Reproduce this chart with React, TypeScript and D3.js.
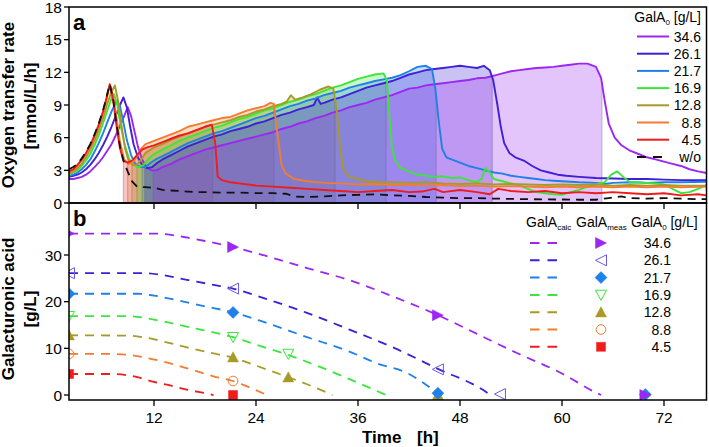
import React from "react";
import * as d3 from "d3";

type P = [number, number];

const LABELS = ["34.6", "26.1", "21.7", "16.9", "12.8", "8.8", "4.5"];
const COLORS = ["#9B27F2", "#3F1FD8", "#2080E8", "#3BE63B", "#A89A26", "#F27C30", "#EE1C1C"];

// Panel a: oxygen transfer rate [mmol/L/h] vs time [h]
const otr346: P[] = [[2,2.2],[2.5,2.2],[3,2.3],[3.5,2.4],[4,2.6],[4.5,2.9],[5,3.3],[5.5,3.7],[6,4.2],[6.5,4.8],[7,5.4],[7.5,6.2],[8,7.1],[8.5,8.0],[8.9,8.8],[9.3,8.0],[9.7,6.6],[10.1,5.2],[10.6,4.0],[11.1,3.3],[11.7,3.0],[12.3,3.0],[13,3.3],[14,3.6],[15,4.0],[16,4.3],[17,4.6],[18,4.9],[19,5.1],[20,5.3],[21,5.5],[22,5.7],[23,5.9],[24,6.1],[25,6.3],[26,6.5],[27,6.8],[28,7.0],[29,7.3],[30,7.5],[31,7.8],[32,8.0],[33,8.3],[34,8.5],[35,8.8],[36,9.0],[37,9.2],[38,9.5],[39,9.7],[40,9.9],[41,10.2],[42,10.5],[43,10.6],[44,10.8],[45,10.9],[46,11.0],[47,11.1],[48,11.2],[49,11.3],[50,11.45],[51,11.5],[52,11.7],[53,11.9],[54,12.1],[55,12.2],[56,12.3],[57,12.4],[58,12.45],[59,12.5],[60,12.6],[61,12.7],[62,12.8],[63,12.8],[64,12.5],[64.6,11.5],[65.0,9.5],[65.5,7.3],[66.2,6.0],[67,5.3],[68,4.8],[69,4.5],[70,4.2],[71,4.0],[72,3.8],[73,3.6],[74,3.4],[75,3.1],[76,2.9],[77,2.75]];
const otr261: P[] = [[2,2.4],[2.5,2.5],[3,2.6],[3.5,2.8],[4,3.1],[4.5,3.5],[5,4.0],[5.5,4.6],[6,5.3],[6.5,6.1],[7,7.0],[7.5,8.0],[8,9.0],[8.4,9.7],[8.8,8.8],[9.2,7.0],[9.6,5.4],[10.1,4.2],[10.6,3.5],[11.2,3.2],[11.8,3.3],[12.4,3.7],[13,4.0],[14,4.4],[15,4.8],[16,5.2],[17,5.5],[18,5.8],[19,6.1],[20,6.3],[21,6.6],[22,6.8],[23,7.0],[24,7.3],[25,7.5],[26,7.8],[27,8.1],[28,8.3],[29,8.6],[30,8.8],[30.8,9.0],[31.2,9.7],[31.6,9.1],[32,9.2],[33,9.5],[34,9.7],[35,10.0],[36,10.3],[37,10.6],[38,10.8],[39,11.0],[40,11.2],[41,11.5],[42,11.8],[43,12.0],[44,12.2],[45,12.3],[46,12.4],[47,12.5],[48,12.6],[49,12.5],[50,12.4],[50.8,12.6],[51.5,12.2],[51.9,11.3],[52.4,9.0],[52.8,7.0],[53.2,5.5],[53.8,4.6],[54.5,4.2],[55.5,3.9],[56.5,3.4],[57.5,3.0],[58.5,2.8],[59.5,2.6],[60.5,2.5],[62,2.4],[64,2.3],[66,2.25],[68,2.2],[70,2.2],[72,2.15],[74,2.1],[77,2.1]];
const otr217: P[] = [[2,2.5],[2.5,2.6],[3,2.8],[3.5,3.1],[4,3.5],[4.5,4.0],[5,4.7],[5.5,5.5],[6,6.4],[6.5,7.4],[7,8.4],[7.6,9.4],[8,8.9],[8.4,7.4],[8.8,5.8],[9.3,4.4],[9.8,3.6],[10.4,3.3],[11,3.3],[11.6,3.7],[12.2,4.0],[13,4.3],[14,4.7],[15,5.1],[16,5.5],[17,5.8],[18,6.1],[19,6.4],[20,6.6],[21,6.9],[22,7.2],[23,7.5],[24,7.8],[25,8.0],[26,8.3],[27,8.6],[28,8.9],[29,9.1],[30,9.4],[31,9.6],[32,9.9],[33,10.1],[34,10.3],[35,10.6],[36,10.8],[37,11.0],[38,11.2],[39,11.35],[40,11.5],[41,11.75],[42,12.1],[43,12.5],[44,12.6],[44.7,12.3],[45.1,10.5],[45.5,7.5],[45.9,5.0],[46.4,4.2],[47,4.0],[48,3.7],[49,3.4],[50,3.2],[51,3.0],[52,2.8],[53,2.7],[54,2.5],[55,2.4],[56,2.3],[57,2.2],[58,2.1],[59,2.05],[60,2.0],[61,1.95],[62,1.9],[64,1.85],[65,1.75],[66,1.85],[68,1.9],[70,1.85],[72,1.9],[74,1.9],[77,1.95]];
const otr169: P[] = [[2,2.6],[2.5,2.8],[3,3.0],[3.5,3.4],[4,3.9],[4.5,4.5],[5,5.3],[5.5,6.2],[6,7.3],[6.5,8.5],[7,9.6],[7.3,10.0],[7.7,8.9],[8.1,7.0],[8.6,5.2],[9.1,4.0],[9.6,3.5],[10.2,3.3],[10.8,3.5],[11.4,4.1],[12,4.5],[13,4.9],[14,5.3],[15,5.7],[16,6.0],[17,6.3],[18,6.6],[19,6.9],[20,7.1],[21,7.4],[22,7.7],[23,7.9],[24,8.2],[25,8.5],[26,8.7],[27,9.0],[28,9.3],[29,9.5],[30,9.8],[31,10.0],[32,10.3],[33,10.6],[34,10.8],[35,11.1],[36,11.4],[37,11.6],[38,11.8],[39,11.9],[39.4,11.3],[39.7,8.0],[40,5.0],[40.4,3.9],[41,3.2],[42,2.9],[43,2.6],[44,2.5],[45,2.4],[46,2.45],[47,2.3],[48,2.35],[49,2.1],[50,1.9],[50.5,2.2],[51,3.2],[51.5,2.8],[52,2.2],[53,2.0],[54,1.8],[55,1.6],[56,1.3],[57,1.0],[58,0.9],[59,0.8],[60,0.75],[61,1.0],[62,1.2],[63,1.5],[64,1.7],[65,1.9],[65.8,2.6],[66.5,2.9],[67.2,2.4],[68,1.9],[69,1.9],[70,1.85],[71,1.8],[72,1.7],[73,1.3],[74,0.9],[75,1.0],[76,1.3],[77,1.65]];
const otr128: P[] = [[2,2.7],[2.5,2.9],[3,3.2],[3.5,3.6],[4,4.2],[4.5,4.9],[5,5.7],[5.5,6.7],[6,7.8],[6.5,9.1],[7,10.2],[7.4,10.8],[7.8,9.3],[8.2,7.0],[8.6,5.0],[9,3.9],[9.5,3.5],[10,3.5],[10.5,4.0],[11,4.6],[12,5.1],[13,5.4],[14,5.8],[15,6.1],[16,6.4],[17,6.7],[18,7.0],[19,7.2],[20,7.4],[21,7.6],[22,7.9],[23,8.1],[24,8.4],[25,8.6],[26,8.9],[27,9.1],[27.6,9.3],[28.1,9.9],[28.6,9.5],[29.5,9.7],[30.5,10.0],[31.5,10.4],[32.5,10.7],[33.1,10.5],[33.5,8.5],[33.9,5.0],[34.3,3.0],[35,2.4],[36,2.2],[37,2.0],[38.5,1.9],[40,1.9],[42,1.85],[44,1.9],[46,1.8],[48,1.75],[50,1.8],[52,1.7],[54,1.75],[56,1.7],[58,1.65],[60,1.7],[62,1.65],[64,1.7],[66,1.6],[68,1.65],[70,1.6],[72,1.65],[74,1.6],[77,1.6]];
const otr88: P[] = [[2,2.8],[2.5,3.0],[3,3.4],[3.5,3.9],[4,4.5],[4.5,5.2],[5,6.1],[5.5,7.1],[6,8.3],[6.4,9.5],[6.8,10.9],[7.2,9.8],[7.6,7.8],[8,5.6],[8.5,4.0],[9,3.6],[9.5,3.7],[10,4.3],[10.5,5.0],[11,5.4],[12,5.7],[13,6.0],[14,6.3],[15,6.6],[16,7.0],[17,7.2],[18,7.4],[19,7.6],[20,7.8],[21,7.9],[22,8.2],[23,8.5],[24,8.7],[25,8.9],[25.7,9.2],[26.1,9.1],[26.5,6.5],[27,3.5],[27.5,2.7],[28.5,2.2],[30,2.0],[32,1.85],[34,1.8],[36,1.7],[38,1.75],[40,1.65],[42,1.7],[44,1.6],[46,1.65],[48,1.55],[50,1.6],[52,1.5],[54,1.55],[56,1.5],[58,1.45],[60,1.5],[62,1.45],[64,1.5],[66,1.45],[68,1.5],[70,1.45],[72,1.5],[74,1.45],[77,1.5]];
const otr45: P[] = [[2,2.9],[2.5,3.1],[3,3.5],[3.5,4.0],[4,4.6],[4.5,5.3],[5,6.2],[5.5,7.2],[6,8.4],[6.4,9.6],[6.8,10.9],[7.2,9.4],[7.6,7.0],[8,5.0],[8.4,3.9],[8.9,3.7],[9.4,3.9],[10,4.4],[10.6,4.9],[11.2,5.1],[12,5.3],[13,5.6],[14,5.9],[15,6.2],[16,6.4],[17,6.7],[18,7.0],[18.8,7.2],[19.2,5.5],[19.5,2.4],[20,2.1],[21,1.9],[22,1.8],[24,1.6],[26,1.5],[28,1.4],[30,1.3],[32,1.2],[34,1.1],[36,1.0],[38,1.1],[40,1.2],[42,1.0],[43.5,1.05],[45,1.3],[46,1.0],[48,1.2],[50,1.0],[51.5,0.8],[52.5,1.3],[54,1.1],[56,1.0],[58,1.1],[60,0.9],[62,1.0],[64,0.9],[66,1.0],[68,0.9],[70,0.8],[72,0.9],[74,0.7],[76,0.8],[77,0.7]];
const otrWo: P[] = [[2,3.1],[2.5,3.3],[3,3.6],[3.5,4.1],[4,4.7],[4.5,5.4],[5,6.3],[5.5,7.3],[6,8.5],[6.4,9.7],[6.8,10.9],[7.2,9.5],[7.6,7.2],[8,5.2],[8.4,3.9],[8.9,2.9],[9.4,2.0],[10,1.5],[11,1.45],[12,1.4],[13,1.2],[14,1.15],[15,1.1],[16,1.05],[17,1.0],[18,1.0],[20,0.95],[22,0.95],[24,0.9],[26,0.9],[27.5,0.85],[28.5,0.6],[30,0.55],[32,0.6],[34,0.7],[36,0.75],[38,0.8],[40,0.7],[42,0.65],[44,0.55],[46,0.5],[48,0.45],[50,0.45],[52,0.4],[54,0.38],[56,0.35],[58,0.33],[60,0.32],[62,0.3],[64,0.3],[65.5,0.45],[67,0.6],[68,0.45],[70,0.4],[72,0.45],[74,0.4],[76,0.35],[77,0.35]];

const OTR = [otr346, otr261, otr217, otr169, otr128, otr88, otr45];
// shaded GalA consumption phase per series [start, end] in h
const FILL_START = [11.9, 10.9, 10.6, 10.0, 9.4, 8.9, 8.4];
const FILL_END = [64.7, 51.8, 45.2, 39.3, 33.3, 26.1, 18.9];

// Panel b: calculated GalA [g/L]
const calc346: P[] = [[2,34.6],[12,34.6],[14,34.3],[16,33.7],[18,33.0],[21.3,31.7],[25,29.9],[30,27.2],[35,24.6],[40,21.2],[45.4,17.1],[50,13.1],[54.7,9.0],[60,4.6],[63.9,0.6],[64.6,0]];
const calc261: P[] = [[2,26.1],[11,26.1],[13,25.7],[15,25.0],[17,24.3],[19,23.6],[21.3,22.8],[25,20.7],[30,17.6],[35,14.0],[40,10.3],[45.4,5.6],[50.7,1.1],[51.6,0]];
const calc217: P[] = [[2,21.7],[10,21.7],[12,21.3],[14,20.6],[16,19.8],[18,19.0],[21.3,17.7],[25,15.6],[30,12.4],[35,9.3],[38.2,6.8],[41.8,4.7],[44.3,1.8],[45.6,0]];
const calc169: P[] = [[2,16.9],[9,16.9],[11,16.5],[13,15.8],[15,15.0],[17,14.2],[19,13.4],[21.3,12.4],[24,10.8],[27.8,8.6],[31,6.4],[35,3.4],[39.3,0]];
const calc128: P[] = [[2,12.8],[9,12.7],[11,12.3],[13,11.5],[15,10.6],[17,9.7],[19,8.9],[21.3,8.0],[24,6.3],[27.8,3.8],[30,2.3],[33,0]];
const calc88: P[] = [[2,8.8],[7,8.8],[9,8.6],[11,8.0],[13,7.2],[15,6.2],[17,5.1],[19,4.0],[21.3,3.0],[23,1.8],[25.3,0]];
const calc45: P[] = [[2,4.5],[7,4.5],[9,4.2],[10.5,3.6],[12,2.8],[14,2.0],[16,1.1],[18,0.4],[19,0]];
const CALC = [calc346, calc261, calc217, calc169, calc128, calc88, calc45];

// Panel b: measured GalA [g/L]
const meas346: P[] = [[2,34.6],[21.3,31.7],[45.4,17.1],[69.8,0]];
const meas261: P[] = [[2,26.1],[21.3,22.8],[45.4,5.5],[52.7,0.2]];
const meas217: P[] = [[2,21.7],[21.3,17.7],[45.4,0.4],[69.8,0.1]];
const meas169: P[] = [[2,16.9],[21.3,12.4],[27.8,8.8]];
const meas128: P[] = [[2,12.8],[21.3,8.1],[27.8,3.8],[45.4,0]];
const meas88: P[] = [[2,8.8],[21.3,3.0]];
const meas45: P[] = [[2,4.5],[21.3,0]];
const MEAS = [meas346, meas261, meas217, meas169, meas128, meas88, meas45];
const MARKERS = ["triRight", "triLeft", "diamond", "triDown", "triUp", "circle", "square"];
const MARKER_FILLED = [true, false, true, false, true, false, true];
const MARKER_STROKE = ["#9B27F2", "#6A58E8", "#1E80EA", "#3BE63B", "#A89A26", "#F27C30", "#EE1C1C"];

const X_TICKS = [12, 24, 36, 48, 60, 72];
const YA_TICKS = [0, 3, 6, 9, 12, 15, 18];
const YB_TICKS = [0, 10, 20, 30];

const FONT = "'Liberation Sans', Arial, sans-serif";

const L = 69, R = 706.5;
const A_TOP = 7, A_BOT = 203, B_BOT = 400;

function interp(data: P[], t: number): number {
  for (let i = 1; i < data.length; i++) {
    if (data[i][0] >= t) {
      const [t0, v0] = data[i - 1];
      const [t1, v1] = data[i];
      return v0 + ((v1 - v0) * (t - t0)) / (t1 - t0);
    }
  }
  return data[data.length - 1][1];
}

function markerPath(kind: string, cx: number, cy: number): string {
  const s = 5.5;
  switch (kind) {
    case "triRight": return `M${cx - s},${cy - s}L${cx + s},${cy}L${cx - s},${cy + s}Z`;
    case "triLeft": return `M${cx + s},${cy - s}L${cx - s},${cy}L${cx + s},${cy + s}Z`;
    case "triUp": return `M${cx - s},${cy + s * 0.85}L${cx},${cy - s}L${cx + s},${cy + s * 0.85}Z`;
    case "triDown": return `M${cx - s},${cy - s * 0.85}L${cx},${cy + s}L${cx + s},${cy - s * 0.85}Z`;
    case "diamond": return `M${cx},${cy - s - 0.5}L${cx + s + 0.5},${cy}L${cx},${cy + s + 0.5}L${cx - s - 0.5},${cy}Z`;
    case "square": return `M${cx - 4.5},${cy - 4.5}h9v9h-9Z`;
    default: return "";
  }
}

function Marker({ kind, cx, cy, i }: { kind: string; cx: number; cy: number; i: number }) {
  const filled = MARKER_FILLED[i];
  const c = MARKER_STROKE[i];
  if (kind === "circle") {
    return <circle cx={cx} cy={cy} r={4.8} fill="none" stroke={c} strokeWidth={1} />;
  }
  return <path d={markerPath(kind, cx, cy)} fill={filled ? c : "none"} stroke={c} strokeWidth={filled ? 0.5 : 1} />;
}

export default function App() {
  const x = d3.scaleLinear().domain([2, 77]).range([L, R]);
  const yA = d3.scaleLinear().domain([0, 18]).range([A_BOT, A_TOP]);
  const yB = d3.scaleLinear().domain([0, 30]).range([395, 255]);

  const lineA = d3.line<P>().x((d) => x(d[0])).y((d) => yA(d[1]));
  const lineB = d3.line<P>().x((d) => x(d[0])).y((d) => yB(d[1])).curve(d3.curveMonotoneX);
  const areaA = d3.area<P>().x((d) => x(d[0])).y0(yA(0)).y1((d) => yA(d[1]));

  const fills = OTR.map((data, i) => {
    const s = FILL_START[i], e = FILL_END[i];
    const pts: P[] = [[s, interp(data, s)], ...data.filter((d) => d[0] > s && d[0] < e), [e, interp(data, e)]];
    return pts;
  });

  const drawOrder = [6, 5, 4, 3, 2, 1, 0];

  return (
    <svg width={709} height={447} style={{ position: "absolute", left: 0, top: 0, background: "white" }} fontFamily={FONT}>
      <defs>
        <clipPath id="clipA"><rect x={L} y={A_TOP} width={R - L} height={A_BOT - A_TOP} /></clipPath>
        <clipPath id="clipB"><rect x={L} y={A_BOT} width={R - L} height={B_BOT - A_BOT} /></clipPath>
      </defs>

      {/* Panel a fills */}
      <g clipPath="url(#clipA)">
        {drawOrder.map((i) => (
          <path key={"f" + i} d={areaA(fills[i]) || ""} fill={COLORS[i]} fillOpacity={0.27} stroke="none" />
        ))}
        {drawOrder.map((i) => (
          <g key={"v" + i}>
            <line x1={x(FILL_START[i])} x2={x(FILL_START[i])} y1={yA(0)} y2={yA(interp(OTR[i], FILL_START[i]))} stroke="#6a6090" strokeOpacity={0.35} strokeWidth={1.2} />
            <line x1={x(FILL_END[i])} x2={x(FILL_END[i])} y1={yA(0)} y2={yA(interp(OTR[i], FILL_END[i]))} stroke="#6a6090" strokeOpacity={0.35} strokeWidth={1.2} />
          </g>
        ))}
        {[0, 1, 2, 3, 4, 5, 6].map((i) => (
          <path key={"l" + i} d={lineA(OTR[i]) || ""} fill="none" stroke={COLORS[i]} strokeWidth={1.9} strokeLinejoin="round" />
        ))}
        <path d={lineA(otrWo) || ""} fill="none" stroke="#111" strokeWidth={1.8} strokeDasharray="8,6" />
      </g>

      {/* Panel b */}
      <g clipPath="url(#clipB)">
        {[0, 1, 2, 3, 4, 5, 6].map((i) => (
          <path key={"c" + i} d={lineB(CALC[i]) || ""} fill="none" stroke={COLORS[i]} strokeWidth={1.8} strokeDasharray="9,7" />
        ))}
        {drawOrder.map((i) =>
          MEAS[i].map((d, j) => (
            <Marker key={"m" + i + "_" + j} kind={MARKERS[i]} cx={x(d[0])} cy={yB(d[1])} i={i} />
          ))
        )}
      </g>

      {/* Frames */}
      <rect x={L} y={A_TOP} width={R - L} height={A_BOT - A_TOP} fill="none" stroke="#000" strokeWidth={1.5} />
      <rect x={L} y={A_BOT} width={R - L} height={B_BOT - A_BOT} fill="none" stroke="#000" strokeWidth={1.5} />

      {/* Panel a y axis */}
      {YA_TICKS.map((t) => (
        <g key={"ya" + t}>
          <line x1={L - 5} x2={L} y1={yA(t)} y2={yA(t)} stroke="#000" strokeWidth={1.3} />
          <text x={L - 7} y={yA(t) + 5.5} textAnchor="end" fontSize={15.5}>{t}</text>
        </g>
      ))}
      {X_TICKS.map((t) => (
        <line key={"xa" + t} x1={x(t)} x2={x(t)} y1={A_BOT} y2={A_BOT + 6} stroke="#000" strokeWidth={1.3} />
      ))}

      {/* Panel b axes */}
      {YB_TICKS.map((t) => (
        <g key={"yb" + t}>
          <line x1={L - 5} x2={L} y1={yB(t)} y2={yB(t)} stroke="#000" strokeWidth={1.3} />
          <text x={L - 7} y={yB(t) + 5.5} textAnchor="end" fontSize={15.5}>{t}</text>
        </g>
      ))}
      {X_TICKS.map((t) => (
        <g key={"xb" + t}>
          <line x1={x(t)} x2={x(t)} y1={B_BOT} y2={B_BOT + 6} stroke="#000" strokeWidth={1.3} />
          <text x={x(t)} y={423} textAnchor="middle" fontSize={15.5}>{t}</text>
        </g>
      ))}

      {/* Axis titles */}
      <text transform="translate(14,105) rotate(-90)" textAnchor="middle" fontSize={17} fontWeight="bold">Oxygen transfer rate</text>
      <text transform="translate(36,106) rotate(-90)" textAnchor="middle" fontSize={17} fontWeight="bold">[mmol/L/h]</text>
      <text transform="translate(14,309) rotate(-90)" textAnchor="middle" fontSize={17} fontWeight="bold">Galacturonic acid</text>
      <text transform="translate(36,309) rotate(-90)" textAnchor="middle" fontSize={17} fontWeight="bold">[g/L]</text>
      <text x={362} y={443} fontSize={17} fontWeight="bold">Time</text>
      <text x={417} y={443} fontSize={17} fontWeight="bold">[h]</text>

      {/* panel letters */}
      <text x={73} y={30} fontSize={22} fontWeight="bold">a</text>
      <text x={73} y={226} fontSize={22} fontWeight="bold">b</text>

      {/* Legend a */}
      <text x={701} y={22} textAnchor="end" fontSize={14}>
        GalA<tspan fontSize={8} dy={3}>0</tspan><tspan dy={-3}> [g/L]</tspan>
      </text>
      {LABELS.map((lab, i) => (
        <g key={"la" + i}>
          <line x1={637} x2={669} y1={36.5 + i * 17.2} y2={36.5 + i * 17.2} stroke={COLORS[i]} strokeWidth={2} />
          <text x={701} y={41.5 + i * 17.2} textAnchor="end" fontSize={14}>{lab}</text>
        </g>
      ))}
      <line x1={637} x2={669} y1={36.5 + 7 * 17.2} y2={36.5 + 7 * 17.2} stroke="#111" strokeWidth={2} strokeDasharray="9,7" />
      <text x={701} y={41.5 + 7 * 17.2} textAnchor="end" fontSize={14}>w/o</text>

      {/* Legend b */}
      <text x={526} y={227} fontSize={14}>GalA<tspan fontSize={8} dy={3}>calc</tspan></text>
      <text x={576} y={227} fontSize={14}>GalA<tspan fontSize={8} dy={3}>meas</tspan></text>
      <text x={631} y={227} fontSize={14}>GalA<tspan fontSize={8} dy={3}>0</tspan><tspan dy={-3}> [g/L]</tspan></text>
      {LABELS.map((lab, i) => {
        const cy = 243 + i * 17.3;
        return (
          <g key={"lb" + i}>
            <line x1={530} x2={557} y1={cy} y2={cy} stroke={COLORS[i]} strokeWidth={2} strokeDasharray="9.5,8" />
            <Marker kind={MARKERS[i]} cx={601} cy={cy} i={i} />
            <text x={671} y={cy + 5} textAnchor="end" fontSize={14}>{lab}</text>
          </g>
        );
      })}
    </svg>
  );
}
